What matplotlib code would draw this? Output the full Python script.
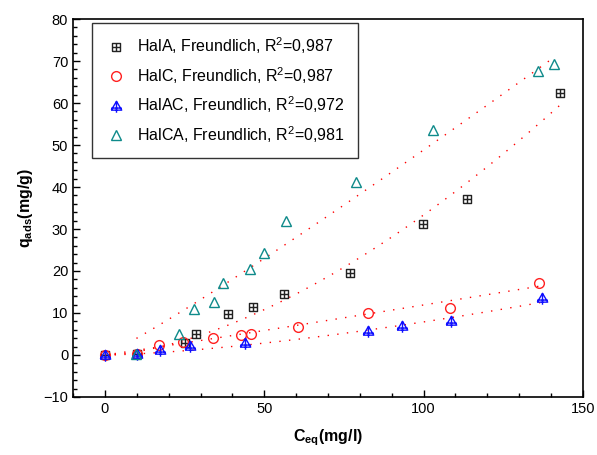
import matplotlib
matplotlib.use('Agg')
import matplotlib.pyplot as plt
import numpy as np
from matplotlib.path import Path
from matplotlib.ticker import MultipleLocator

plt.rcParams['font.family'] = ['Liberation Sans', 'DejaVu Sans']
plt.rcParams['mathtext.fontset'] = 'custom'
plt.rcParams['mathtext.rm'] = 'Liberation Sans'
plt.rcParams['mathtext.bf'] = 'Liberation Sans:bold'

hal_a_x = [0, 10, 25.1, 28.5, 38.5, 46.5, 56.2, 76.9, 99.7, 113.5, 142.8]
hal_a_y = [0, 0.3, 2.8, 5.1, 9.8, 11.4, 14.5, 19.6, 31.1, 37.2, 62.4]

hal_c_x = [0, 10, 16.9, 24.6, 33.8, 42.6, 45.8, 60.6, 82.7, 108.3, 136.2]
hal_c_y = [0, 0.3, 2.4, 3.2, 4.1, 4.7, 5.0, 6.7, 9.9, 11.2, 17.2]

hal_ac_x = [0, 10, 17.3, 26.8, 43.9, 82.6, 93.1, 108.5, 137.1]
hal_ac_y = [0, 0.2, 1.3, 2.1, 2.8, 5.7, 7.0, 8.1, 13.6]

hal_ca_x = [9.9, 23.1, 28.1, 34.2, 37.2, 45.5, 49.9, 56.7, 78.8, 102.8, 136.0, 140.9]
hal_ca_y = [0.2, 5.1, 10.9, 12.5, 17.2, 20.4, 24.2, 31.9, 41.3, 53.6, 67.6, 69.4]

# Freundlich fit q = K * C^p, parameters estimated from the dotted curves
fit_k = [0.01866, 0.1037, 0.00875, 0.327]
fit_p = [1.626, 1.03, 1.477, 1.087]

labels = ['HalA, Freundlich, R$^2$=0,987',
          'HalC, Freundlich, R$^2$=0,987',
          'HalAC, Freundlich, R$^2$=0,972',
          'HalCA, Freundlich, R$^2$=0,981']


def marker_path(kind):
    M, L = Path.MOVETO, Path.LINETO
    if kind == 'sq_plus':
        verts = [(-1, -1), (1, -1), (1, 1), (-1, 1), (-1, -1),
                 (0, -1), (0, 1), (-1, 0), (1, 0)]
        codes = [M, L, L, L, L, M, L, M, L]
    else:
        verts = [(-1, -0.7), (1, -0.7), (0, 1), (-1, -0.7),
                 (0, 1), (0, -1.2), (-1, -0.3), (1, -0.3)]
        codes = [M, L, L, L, M, L, M, L]
    return Path(verts, codes)


fig = plt.figure(figsize=(5.97, 4.55), dpi=100)
ax = fig.add_axes([0.1223, 0.1275, 0.8542, 0.8307])

series = [
    (hal_a_x, hal_a_y, dict(marker=marker_path('sq_plus'), color='#222222', ms=6, mew=1.0, mfc='none')),
    (hal_c_x, hal_c_y, dict(marker='o', color='#ff2020', ms=7, mew=1.0, mfc='none')),
    (hal_ac_x, hal_ac_y, dict(marker=marker_path('tri_plus'), color='#1010ff', ms=9, mew=1.0, mfc='none')),
    (hal_ca_x, hal_ca_y, dict(marker='^', color='#0e8a8a', ms=7.5, mew=1.0, mfc='none')),
]

for i, (x, y, style) in enumerate(series):
    ax.plot(x, y, ls='none', label=labels[i], **style)

for i, (x, y, style) in enumerate(series):
    xf = np.linspace(min(x), max(x), 200)
    ax.plot(xf, fit_k[i] * xf ** fit_p[i], color='red', lw=1.0,
            ls=(0, (1, 6)), zorder=1)

ax.set_xlim(-10, 150)
ax.set_ylim(-10, 80)
ax.xaxis.set_major_locator(MultipleLocator(50))
ax.xaxis.set_minor_locator(MultipleLocator(10))
ax.yaxis.set_major_locator(MultipleLocator(10))
ax.yaxis.set_minor_locator(MultipleLocator(2))
ax.tick_params(which='both', direction='in', top=False, right=False, labelsize=10.5)
ax.tick_params(which='major', length=5, width=1)
ax.tick_params(which='minor', length=3, width=1)
for s in ax.spines.values():
    s.set_linewidth(1.2)

ax.set_xlabel(r'$\mathbf{C_{eq}}$(mg/l)', fontsize=11.5, fontweight='bold', labelpad=8)
ax.set_ylabel(r'$\mathbf{q_{ads}}$(mg/g)', fontsize=11.5, fontweight='bold', labelpad=6)

leg = ax.legend(loc='upper left', bbox_to_anchor=(0.038, 0.99), fontsize=11.5,
                frameon=True, fancybox=False, edgecolor='black',
                labelspacing=0.55, handletextpad=0.7, handlelength=1.3,
                borderpad=0.8, borderaxespad=0)
leg.get_frame().set_linewidth(1.0)

fig.savefig('out.png', dpi=100)
